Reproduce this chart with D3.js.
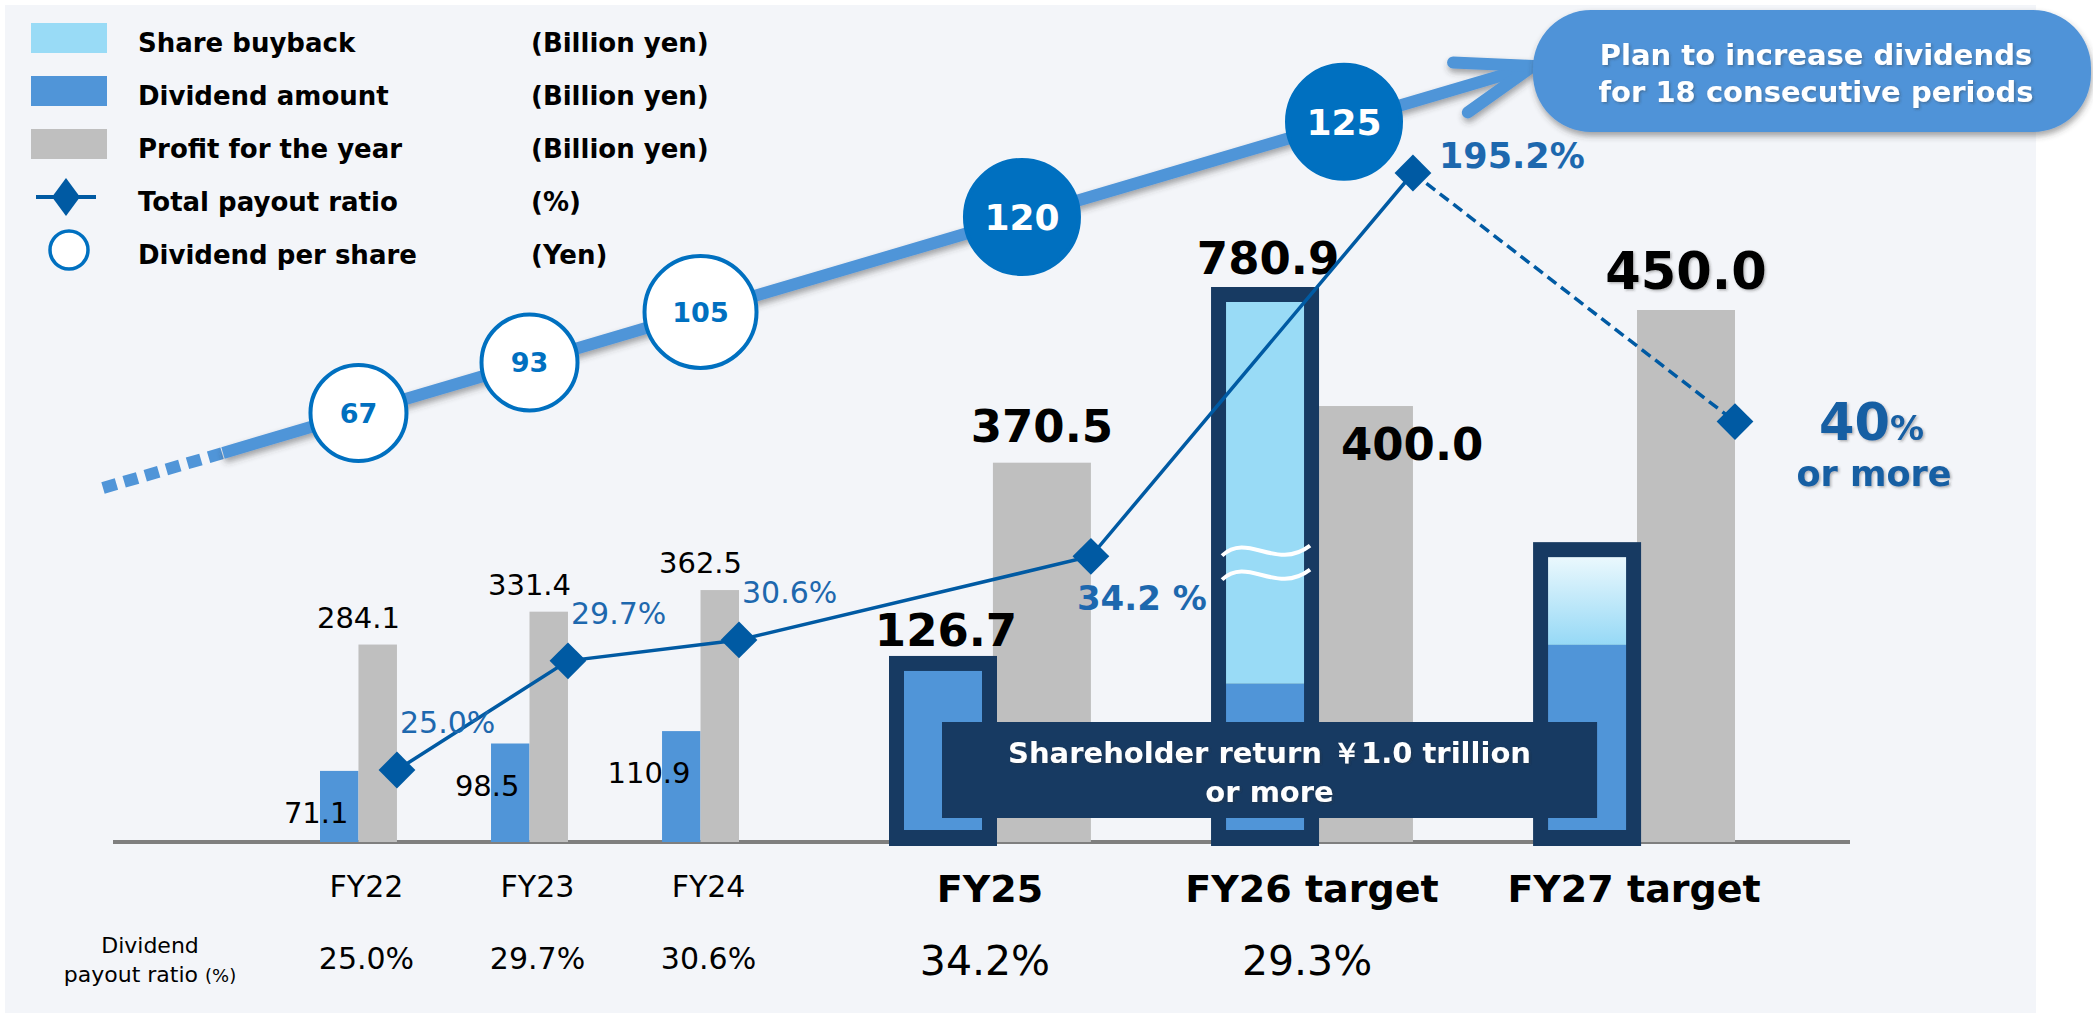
<!DOCTYPE html>
<html>
<head>
<meta charset="utf-8">
<script src="https://cdn.jsdelivr.net/npm/d3@7"></script>
<style>
  body { margin: 0; background: #ffffff; }
  svg text { font-family: "DejaVu Sans", Verdana, sans-serif; }
</style>
</head>
<body>
<div id="vis"></div>
<script>
const WIDTH = 2093;
const HEIGHT = 1013;

// ---- data ----
const actualYears = ["FY22", "FY23", "FY24"];
const planYears = ["FY25", "FY26 target", "FY27 target"];
const dividendActual = [71.1, 98.5, 110.9];        // billion yen
const profitActual = [284.1, 331.4, 362.5];         // billion yen
const dividendPlan = [126.7, 117.2, 146];           // billion yen (FY27 estimated)
const buybackPlan = [0, 663.7, 65];                 // billion yen (FY27 estimated)
const profitPlan = [370.5, 400.0, 450.0];           // billion yen
const totalPayoutRatio = [25.0, 29.7, 30.6, 34.2, 195.2, 40];   // %
const dividendPerShare = [67, 93, 105, 120, 125];   // yen
const dividendPayoutRatio = [25.0, 29.7, 30.6, 34.2, 29.3];     // %
const legendNames = ["Share buyback", "Dividend amount", "Profit for the year", "Total payout ratio", "Dividend per share"];
const legendUnits = ["(Billion yen)", "(Billion yen)", "(Billion yen)", "(%)", "(Yen)"];

// colours
const C_BUYBACK = "#99dbf6";
const C_DIVIDEND = "#5095d8";
const C_PROFIT = "#bfbfbf";
const C_NAVY = "#173a62";
const C_LINE = "#005aa3";
const C_CIRCLE = "#0070c0";
const C_LABEL = "#1d68ae";

const SVG = d3.select("#vis").append("svg").attr("width", WIDTH).attr("height", HEIGHT);
const defs = SVG.append("defs");

defs.append("filter").attr("id", "shadow")
    .attr("x", "-20%").attr("y", "-40%").attr("width", "140%").attr("height", "180%")
    .append("feDropShadow")
    .attr("dx", 1).attr("dy", 4).attr("stdDeviation", 3)
    .attr("flood-color", "#3a3a3a").attr("flood-opacity", 0.45);

defs.append("filter").attr("id", "tshadow")
    .attr("x", "-10%").attr("y", "-20%").attr("width", "120%").attr("height", "140%")
    .append("feDropShadow")
    .attr("dx", 1.5).attr("dy", 1.5).attr("stdDeviation", 1)
    .attr("flood-color", "#333").attr("flood-opacity", 0.35);

let grad = defs.append("linearGradient").attr("id", "fadeBuyback")
    .attr("x1", 0).attr("y1", 0).attr("x2", 0).attr("y2", 1);
grad.append("stop").attr("offset", "0%").attr("stop-color", "#eaf8fd");
grad.append("stop").attr("offset", "100%").attr("stop-color", "#96d9f6");

// background panel
SVG.append("rect")
    .attr("x", 5).attr("y", 5)
    .attr("width", 2031).attr("height", HEIGHT - 5)
    .attr("fill", "#f3f5f9");

// ---- scales ----
const BASE = 842;
const xActual = d3.scaleBand().domain(actualYears).range([320, 739]).paddingInner(0.55);
const xSub = d3.scaleBand().domain(["dividend", "profit"]).range([0, xActual.bandwidth()]);
const xPlan = d3.scaleBand().domain(planYears).range([889, 1735]).paddingInner(0.373);

const yDivActual = d3.scaleLinear().domain([0, 100]).range([BASE, BASE - 100]);
const yProfitActual = d3.scaleLinear().domain([0, 400]).range([BASE, BASE - 278]);
const yProfitPlan = d3.scaleLinear().domain([173, 450]).range([BASE, 310]);
const yReturn = d3.scaleLinear().domain([0, 400]).range([BASE, 302]).clamp(true); // broken axis for FY26
const yRatio = d3.scaleLinear().domain([25, 50.7]).range([770, 173]).clamp(true);

const BOX_W = 108, BORDER = 15, GRAY_W = 98;
const planBw = xPlan.bandwidth();
const grayLeft = d => xPlan(d) + planBw - GRAY_W;

// baseline
SVG.append("line")
    .attr("x1", 113).attr("x2", 1850)
    .attr("y1", BASE).attr("y2", BASE)
    .attr("stroke", "#7f7f7f").attr("stroke-width", 4);

// ---- big arrow with dividend per share circles ----
const ARROW_START = [103, 488], ARROW_DASH_END = [223, 453], ARROW_TIP = [1533, 66];
const arrowSlope = (ARROW_TIP[1] - ARROW_DASH_END[1]) / (ARROW_TIP[0] - ARROW_DASH_END[0]);
const arrowY = x => ARROW_DASH_END[1] + (x - ARROW_DASH_END[0]) * arrowSlope;

let arrowG = SVG.append("g").attr("id", "arrowG");
arrowG.append("line")
    .attr("x1", ARROW_START[0]).attr("y1", ARROW_START[1])
    .attr("x2", ARROW_DASH_END[0]).attr("y2", ARROW_DASH_END[1])
    .attr("stroke", C_DIVIDEND).attr("stroke-width", 12)
    .attr("stroke-dasharray", "14,8");

let shaft = arrowG.append("g").attr("filter", "url(#shadow)");
shaft.append("line")
    .attr("x1", ARROW_DASH_END[0]).attr("y1", ARROW_DASH_END[1])
    .attr("x2", ARROW_TIP[0] - 6).attr("y2", ARROW_TIP[1] + 2)
    .attr("stroke", C_DIVIDEND).attr("stroke-width", 12);
const ang = Math.atan2(ARROW_TIP[1] - ARROW_DASH_END[1], ARROW_TIP[0] - ARROW_DASH_END[0]);
[-19, 19].forEach(deg => {
    const a = ang + Math.PI + deg * Math.PI / 180;
    shaft.append("line")
        .attr("x1", ARROW_TIP[0]).attr("y1", ARROW_TIP[1])
        .attr("x2", ARROW_TIP[0] + 80 * Math.cos(a)).attr("y2", ARROW_TIP[1] + 80 * Math.sin(a))
        .attr("stroke", C_DIVIDEND).attr("stroke-width", 12).attr("stroke-linecap", "round");
});

const dpsX = i => i < 3
    ? xActual(actualYears[i]) + xActual.bandwidth() / 2
    : xPlan(planYears[i - 3]) + planBw / 2 + 32;
const rDps = d3.scaleThreshold().domain([100, 110]).range([48, 56, 57]);

let dpsG = SVG.append("g").attr("id", "dpsG")
    .selectAll("g").data(dividendPerShare).join("g")
    .attr("transform", (d, i) => `translate(${dpsX(i)},${arrowY(dpsX(i))})`);
dpsG.append("circle")
    .attr("r", d => rDps(d))
    .attr("fill", (d, i) => i >= 3 ? C_CIRCLE : "#ffffff")
    .attr("stroke", C_CIRCLE).attr("stroke-width", 4);
dpsG.append("text")
    .attr("text-anchor", "middle")
    .attr("dy", (d, i) => i >= 3 ? 13 : 10)
    .attr("font-size", (d, i) => i >= 3 ? 36 : 27)
    .attr("font-weight", "bold")
    .attr("fill", (d, i) => i >= 3 ? "#ffffff" : C_CIRCLE)
    .text(d => d);

// ---- actual bars FY22-FY24 ----
let barsG = SVG.append("g").attr("id", "barsG");
barsG.selectAll("rect.div").data(dividendActual).join("rect")
    .attr("class", "div")
    .attr("x", (d, i) => xActual(actualYears[i]) + xSub("dividend"))
    .attr("y", d => yDivActual(d))
    .attr("width", xSub.bandwidth())
    .attr("height", d => BASE - yDivActual(d))
    .attr("fill", C_DIVIDEND);
barsG.selectAll("rect.prof").data(profitActual).join("rect")
    .attr("class", "prof")
    .attr("x", (d, i) => xActual(actualYears[i]) + xSub("profit"))
    .attr("y", d => yProfitActual(d))
    .attr("width", xSub.bandwidth())
    .attr("height", d => BASE - yProfitActual(d))
    .attr("fill", C_PROFIT);

barsG.selectAll("text.divlab").data(dividendActual).join("text")
    .attr("class", "divlab")
    .attr("x", (d, i) => xActual(actualYears[i]) + xSub("dividend") + xSub.bandwidth() - 10)
    .attr("y", d => yDivActual(d) + 52)
    .attr("text-anchor", "end").attr("font-size", 29).attr("fill", "#000")
    .text(d => d.toFixed(1));
barsG.selectAll("text.proflab").data(profitActual).join("text")
    .attr("class", "proflab")
    .attr("x", (d, i) => xActual(actualYears[i]) + xActual.bandwidth() / 2)
    .attr("y", d => yProfitActual(d) - 17)
    .attr("text-anchor", "middle").attr("font-size", 29).attr("fill", "#000")
    .text(d => d.toFixed(1));

// ---- plan profit bars ----
let planG = SVG.append("g").attr("id", "planG");
planG.selectAll("rect.prof").data(profitPlan).join("rect")
    .attr("class", "prof")
    .attr("x", (d, i) => grayLeft(planYears[i]))
    .attr("y", d => yProfitPlan(d))
    .attr("width", GRAY_W)
    .attr("height", d => BASE - yProfitPlan(d))
    .attr("fill", C_PROFIT);

// ratio points
const ratioX = i => i < 3
    ? xActual(actualYears[i]) + xActual.bandwidth()
    : xPlan(planYears[i - 3]) + planBw;
const pts = totalPayoutRatio.map((d, i) => [ratioX(i), yRatio(d)]);

// FY25 ratio label sits behind the FY26 box
SVG.append("text")
    .attr("x", pts[3][0] - 14).attr("y", pts[3][1] + 54)
    .attr("font-size", 34).attr("font-weight", "bold").attr("fill", C_LABEL)
    .text(totalPayoutRatio[3].toFixed(1) + " %");

// ---- shareholder return boxes ----
planYears.forEach((yr, i) => {
    const x0 = xPlan(yr);
    const total = dividendPlan[i] + buybackPlan[i];
    const innerTop = yReturn(total);
    const innerBottom = BASE - 12;
    planG.append("rect")
        .attr("x", x0).attr("y", innerTop - BORDER)
        .attr("width", BOX_W).attr("height", innerBottom + BORDER + 1 - (innerTop - BORDER))
        .attr("fill", C_NAVY);
    const ix = x0 + BORDER, iw = BOX_W - 2 * BORDER;
    const divTop = Math.max(yReturn(dividendPlan[i]), innerTop);
    planG.append("rect")
        .attr("x", ix).attr("y", divTop)
        .attr("width", iw).attr("height", innerBottom - divTop)
        .attr("fill", C_DIVIDEND);
    if (buybackPlan[i] > 0) {
        planG.append("rect")
            .attr("x", ix).attr("y", innerTop)
            .attr("width", iw).attr("height", divTop - innerTop)
            .attr("fill", i === 2 ? "url(#fadeBuyback)" : C_BUYBACK);
    }
    // broken-axis mark on the clamped bar
    if (total > yReturn.domain()[1]) {
        const ym = innerTop + 0.68 * (divTop - innerTop);
        [-12, 12].forEach(off => {
            const y = ym + off;
            planG.append("path")
                .attr("d", `M${ix - 4},${y + 6} C${ix + 22},${y - 18} ${ix + 50},${y + 22} ${ix + iw + 6},${y - 4}`)
                .attr("fill", "none").attr("stroke", "#ffffff").attr("stroke-width", 4);
        });
    }
    if (i < 2) {
        planG.append("text")
            .attr("x", x0 + BOX_W / 2 + 3).attr("y", innerTop - BORDER - (i === 0 ? 10 : 13))
            .attr("text-anchor", "middle").attr("font-size", 45).attr("font-weight", "bold")
            .text(total.toFixed(1));
    }
});

// profit labels for plan
planG.selectAll("text.proflab").data(profitPlan).join("text")
    .attr("class", "proflab")
    .attr("x", (d, i) => i === 1 ? grayLeft(planYears[i]) + 26 : grayLeft(planYears[i]) + GRAY_W / 2)
    .attr("y", (d, i) => i === 1 ? yProfitPlan(d) + 54 : yProfitPlan(d) - 21)
    .attr("text-anchor", (d, i) => i === 1 ? "start" : "middle")
    .attr("font-size", (d, i) => i === 2 ? 51 : 45)
    .attr("font-weight", "bold")
    .attr("filter", (d, i) => i === 2 ? "url(#tshadow)" : null)
    .text(d => d.toFixed(1));

// banner
const bx0 = xPlan(planYears[0]) + 53, bx1 = xPlan(planYears[2]) + 64;
SVG.append("rect")
    .attr("x", bx0).attr("y", 722).attr("width", bx1 - bx0).attr("height", 96)
    .attr("fill", C_NAVY);
let banner = SVG.append("text")
    .attr("text-anchor", "middle").attr("font-size", 29).attr("font-weight", "bold")
    .attr("fill", "#ffffff").attr("filter", "url(#tshadow)");
banner.append("tspan").attr("x", (bx0 + bx1) / 2).attr("y", 763).text("Shareholder return ￥1.0 trillion");
banner.append("tspan").attr("x", (bx0 + bx1) / 2).attr("y", 802).text("or more");

// ---- total payout ratio line ----
let lineG = SVG.append("g").attr("id", "lineG");
lineG.append("path")
    .attr("d", d3.line()(pts.slice(0, 5)))
    .attr("fill", "none").attr("stroke", C_LINE).attr("stroke-width", 3.5);
lineG.append("path")
    .attr("d", d3.line()(pts.slice(4)))
    .attr("fill", "none").attr("stroke", C_LINE).attr("stroke-width", 3.5)
    .attr("stroke-dasharray", "11,6");
lineG.selectAll("path.mk").data(pts).join("path")
    .attr("class", "mk")
    .attr("d", d3.symbol(d3.symbolSquare, 26 * 26))
    .attr("transform", d => `translate(${d[0]},${d[1]}) rotate(45)`)
    .attr("fill", C_LINE);

lineG.selectAll("text.rl").data(totalPayoutRatio.slice(0, 3)).join("text")
    .attr("class", "rl")
    .attr("x", (d, i) => pts[i][0] + 3).attr("y", (d, i) => pts[i][1] - 37)
    .attr("font-size", 30).attr("fill", C_LABEL)
    .text(d => d.toFixed(1) + "%");
lineG.append("text")
    .attr("x", pts[4][0] + 26).attr("y", pts[4][1] - 5)
    .attr("font-size", 35).attr("font-weight", "bold").attr("fill", C_LABEL)
    .text(totalPayoutRatio[4].toFixed(1) + "%");
let t40 = lineG.append("text")
    .attr("font-weight", "bold").attr("fill", "#145ea3").attr("filter", "url(#tshadow)");
t40.append("tspan").attr("x", pts[5][0] + 84).attr("y", pts[5][1] + 18)
    .attr("font-size", 51).text(totalPayoutRatio[5]);
t40.append("tspan").attr("font-size", 34).text("%");
lineG.append("text")
    .attr("x", pts[5][0] + 139).attr("y", pts[5][1] + 64)
    .attr("text-anchor", "middle").attr("font-size", 35).attr("font-weight", "bold")
    .attr("fill", "#145ea3").attr("filter", "url(#tshadow)")
    .text("or more");

// ---- category labels and dividend payout ratio row ----
let axisG = SVG.append("g").attr("id", "ejeX");
axisG.selectAll("text.ca").data(actualYears).join("text")
    .attr("class", "ca")
    .attr("x", d => xActual(d) + xActual.bandwidth() / 2 + 8).attr("y", 897)
    .attr("text-anchor", "middle").attr("font-size", 30)
    .text(d => d);
axisG.selectAll("text.cp").data(planYears).join("text")
    .attr("class", "cp")
    .attr("x", d => xPlan(d) + planBw / 2).attr("y", 902)
    .attr("text-anchor", "middle").attr("font-size", 38).attr("font-weight", "bold")
    .text(d => d);
axisG.selectAll("text.pr").data(dividendPayoutRatio).join("text")
    .attr("class", "pr")
    .attr("x", (d, i) => i < 3 ? xActual(actualYears[i]) + xActual.bandwidth() / 2 + 8 : xPlan(planYears[i - 3]) + planBw / 2 - 5)
    .attr("y", (d, i) => i < 3 ? 969 : 975)
    .attr("text-anchor", "middle")
    .attr("font-size", (d, i) => i < 3 ? 30 : 41)
    .text(d => d.toFixed(1) + "%");
axisG.append("text").attr("x", 150).attr("y", 953)
    .attr("text-anchor", "middle").attr("font-size", 22).text("Dividend");
let pr2 = axisG.append("text").attr("x", 150).attr("y", 982)
    .attr("text-anchor", "middle").attr("font-size", 22);
pr2.append("tspan").text("payout ratio ");
pr2.append("tspan").attr("font-size", 18).text("(%)");

// ---- legend ----
let legendG = SVG.append("g").attr("id", "legendG");
const swatchColors = [C_BUYBACK, C_DIVIDEND, C_PROFIT];
legendNames.forEach((name, i) => {
    const cy = 38 + i * 53;
    if (i < 3) {
        legendG.append("rect")
            .attr("x", 31).attr("y", cy - 15).attr("width", 76).attr("height", 30)
            .attr("fill", swatchColors[i]);
    } else if (i === 3) {
        legendG.append("line")
            .attr("x1", 36).attr("x2", 96).attr("y1", cy).attr("y2", cy)
            .attr("stroke", C_LINE).attr("stroke-width", 4);
        legendG.append("path")
            .attr("d", "M0,-19 L14,0 L0,19 L-14,0 Z")
            .attr("transform", `translate(66,${cy})`)
            .attr("fill", C_LINE);
    } else {
        legendG.append("circle")
            .attr("cx", 69).attr("cy", cy).attr("r", 19)
            .attr("fill", "#fff").attr("stroke", C_CIRCLE).attr("stroke-width", 3.5);
    }
    legendG.append("text")
        .attr("x", 138).attr("y", cy + 14)
        .attr("font-size", 26).attr("font-weight", "bold")
        .text(name);
    legendG.append("text")
        .attr("x", 531).attr("y", cy + 14)
        .attr("font-size", 26).attr("font-weight", "bold")
        .text(legendUnits[i]);
});

// ---- callout ----
SVG.append("rect")
    .attr("x", 1533).attr("y", 10).attr("width", 558).attr("height", 122).attr("rx", 58)
    .attr("fill", "#4f93d8").attr("filter", "url(#shadow)");
let callout = SVG.append("text")
    .attr("text-anchor", "middle").attr("font-size", 29).attr("font-weight", "bold")
    .attr("fill", "#ffffff").attr("filter", "url(#tshadow)");
callout.append("tspan").attr("x", 1816).attr("y", 65).text("Plan to increase dividends");
callout.append("tspan").attr("x", 1816).attr("y", 102).text("for 18 consecutive periods");
</script>
</body>
</html>
